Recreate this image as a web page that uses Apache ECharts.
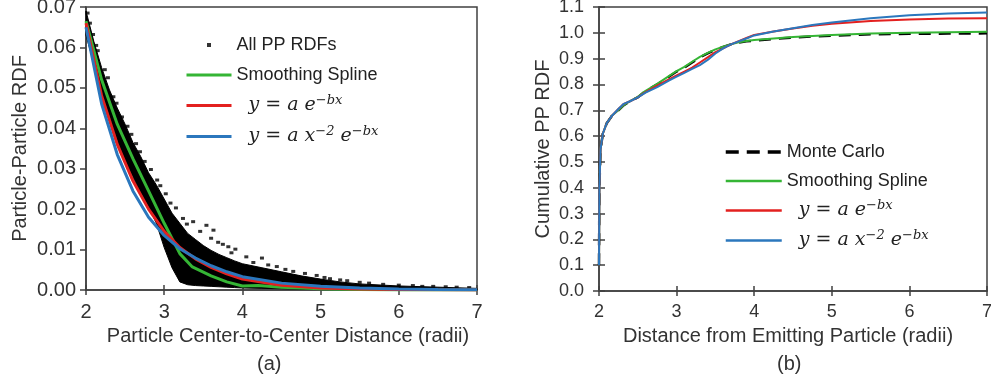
<!DOCTYPE html>
<html>
<head>
<meta charset="utf-8">
<script src="https://cdn.jsdelivr.net/npm/echarts@6/dist/echarts.min.js"></script>
<style>
html,body{margin:0;padding:0;background:#fff;}
#chart{width:991px;height:385px;}
</style>
</head>
<body>
<div id="chart"></div>
<script>
// ---------- Panel (a) data ----------
const cloudX     = [2.0,2.1,2.2,2.3,2.4,2.5,2.6,2.7,2.8,2.9,3.0,3.1,3.2,3.3,3.4,3.5,3.6,3.7,3.8,3.9,4.0,4.25,4.5,4.75,5.0,5.25,5.5,6.0,6.5,7.0];
const cloudUpper = [0.069,0.0615,0.055,0.0495,0.045,0.041,0.0365,0.033,0.029,0.026,0.0225,0.019,0.0165,0.014,0.0125,0.011,0.0098,0.0088,0.008,0.0072,0.0065,0.0055,0.0045,0.0035,0.0027,0.002,0.0015,0.001,0.0007,0.0004];
const cloudLower = [0.063,0.056,0.049,0.043,0.037,0.032,0.028,0.024,0.0205,0.0165,0.0105,0.0055,0.002,0.0013,0.0011,0.001,0.0009,0.0008,0.0007,0.0006,0.0005,0.0004,0.0003,0.0002,0.0002,0.0001,0.0001,0,0,0];
const rdfPoints = [
 [2.02,0.0685],[2.05,0.066],[2.09,0.0632],[2.13,0.0605],[2.15,0.0592],[2.24,0.0545],[2.28,0.0525],
 [2.35,0.0478],[2.39,0.0462],[2.46,0.0428],[2.53,0.0405],[2.58,0.0385],[2.64,0.0362],[2.69,0.0342],
 [2.75,0.0318],[2.83,0.0298],[2.91,0.0272],[2.95,0.0258],[3.02,0.0238],[3.08,0.0215],[3.15,0.0203],
 [3.24,0.0177],[3.29,0.0163],[3.37,0.0169],[3.54,0.016],[3.46,0.0145],[3.63,0.0148],[3.6,0.0128],
 [3.69,0.0118],[3.75,0.0113],[3.82,0.0107],[3.91,0.0101],[3.86,0.0092],[4.05,0.0082],[4.25,0.0079],
 [4.14,0.0068],[4.33,0.0062],[4.44,0.0058],[4.55,0.0051],[4.65,0.0046],[4.8,0.0041],[4.95,0.0036],
 [5.05,0.0031],[5.12,0.0028],[5.25,0.0025],[5.34,0.0023],[5.5,0.0019],[5.62,0.0017],[5.8,0.0014],
 [6.0,0.0012],[6.18,0.0011],[6.3,0.0009],[6.44,0.0009],[6.6,0.0008],[6.74,0.0007],[6.9,0.0006]
];
const splineX = [2.0,2.2,2.4,2.6,2.8,3.0,3.2,3.36,3.6,3.8,4.0,4.2,4.5,5.0,5.5,6.0,7.0];
const splineY = [0.0665,0.052,0.041,0.0325,0.0245,0.0165,0.009,0.0057,0.0035,0.002,0.001,0.0011,0.0007,0.0003,0.0001,0.0,0.0];
const fitX    = [2.0,2.2,2.4,2.6,2.8,3.0,3.2,3.4,3.6,3.8,4.0,4.5,5.0,5.5,6.0,6.5,7.0];
const expY    = [0.066,0.048,0.036,0.027,0.020,0.0145,0.0105,0.0077,0.0056,0.004,0.0027,0.0012,0.0005,0.00025,0.00012,0.00006,0.00003];
const powExpY = [0.065,0.046,0.0335,0.0245,0.018,0.0135,0.0102,0.0079,0.006,0.0045,0.0033,0.0017,0.0009,0.0005,0.00026,0.00014,0.00007];

// ---------- Panel (b) data ----------
const cdfX      = [2.0,2.005,2.02,2.05,2.1,2.17,2.25,2.32,2.4,2.5,2.6,2.75,2.9,3.0,3.1,3.2,3.3,3.4,3.5,3.6,3.7,3.8,3.9,4.0,4.25,4.5,4.75,5.0,5.5,6.0,6.5,7.0];
const mcY       = [0.10,0.40,0.55,0.61,0.65,0.68,0.70,0.72,0.735,0.75,0.775,0.80,0.83,0.85,0.865,0.885,0.905,0.92,0.935,0.945,0.955,0.962,0.967,0.970,0.976,0.982,0.986,0.989,0.994,0.996,0.997,0.998];
const splineCdf = [0.10,0.40,0.55,0.61,0.65,0.68,0.70,0.72,0.735,0.752,0.775,0.802,0.832,0.852,0.868,0.888,0.907,0.922,0.936,0.946,0.956,0.963,0.968,0.972,0.978,0.984,0.988,0.992,0.997,1.0,1.002,1.004];
const expCdf    = [0.10,0.40,0.55,0.61,0.65,0.68,0.705,0.725,0.735,0.75,0.77,0.795,0.82,0.835,0.85,0.865,0.885,0.905,0.925,0.94,0.955,0.968,0.98,0.992,1.005,1.017,1.027,1.035,1.046,1.052,1.055,1.056];
const powCdf    = [0.10,0.40,0.55,0.61,0.65,0.68,0.705,0.725,0.735,0.75,0.768,0.79,0.815,0.83,0.845,0.86,0.875,0.895,0.92,0.94,0.955,0.967,0.978,0.99,1.005,1.018,1.03,1.04,1.056,1.068,1.075,1.079];

const NAME_SCATTER = 'All PP RDFs';
const NAME_MC = 'Monte Carlo';
const NAME_SPLINE = 'Smoothing Spline';
const NAME_EXP = 'y = a e^(-bx)';
const NAME_POW = 'y = a x^(-2) e^(-bx)';

const zip = (xs, ys) => xs.map((x, i) => [x, ys[i]]);

const GREEN = '#35b535', RED = '#e3201f', BLUE = '#2b77bd';
const AXIS = '#404040', TXT = '#333333';
const SANS = 'Liberation Sans, Arial, sans-serif';

function legendFmt(name) {
  if (name === NAME_EXP) return '{g| }{t|y = a e}{s|−bx}';
  if (name === NAME_POW) return '{g| }{t|y = a x}{s|−2}{t| e}{s|−bx}';
  return name;
}
function legendRich(padW) {
  return {
    g: { width: padW, fontSize: 18, lineHeight: 22 },
    t: { fontFamily: 'DejaVu Serif', fontStyle: 'italic', fontSize: 19, lineHeight: 22, color: '#222' },
    s: { fontFamily: 'DejaVu Serif', fontStyle: 'italic', fontSize: 13, lineHeight: 12, padding: [0,0,10,0], color: '#222' }
  };
}

const gridA = { left: 86, top: 7, width: 391, height: 283 };
const gridB = { left: 599, top: 7, width: 388, height: 284 };

function mainX(gi, size) {
  return {
    type: 'value', gridIndex: gi, min: 2, max: 7, interval: 1,
    axisLine: { show: true, lineStyle: { color: AXIS, width: 1.5 } },
    axisTick: { show: true, inside: false, length: 5, lineStyle: { color: AXIS, width: 1.5 } },
    axisLabel: { show: true, fontSize: size, fontFamily: SANS, color: TXT, margin: 12 },
    splitLine: { show: false }
  };
}
function innerX(gi) {
  return {
    type: 'value', gridIndex: gi, min: 2, max: 7, interval: 1,
    axisLine: { show: false }, axisLabel: { show: false }, splitLine: { show: false },
    axisTick: { show: true, inside: true, length: 5, lineStyle: { color: AXIS, width: 1.5 } }
  };
}

// dense point cloud drawn as the region between its read-off envelopes
function renderCloud(params, api) {
  const pts = [];
  for (let i = 0; i < cloudX.length; i++) pts.push(api.coord([cloudX[i], cloudUpper[i]]));
  for (let i = cloudX.length - 1; i >= 0; i--) pts.push(api.coord([cloudX[i], cloudLower[i]]));
  return { type: 'polygon', shape: { points: pts }, style: { fill: '#000', stroke: '#000', lineWidth: 1 } };
}

const hideDot = { opacity: 0 };

const option = {
  animation: false,
  backgroundColor: '#ffffff',
  grid: [
    Object.assign({ show: true, borderColor: AXIS, borderWidth: 1.5, outerBoundsMode: 'none' }, gridA),
    Object.assign({ show: true, borderColor: AXIS, borderWidth: 1.5, outerBoundsMode: 'none' }, gridB),
    Object.assign({ show: false, outerBoundsMode: 'none' }, gridA),
    Object.assign({ show: false, outerBoundsMode: 'none' }, gridB)
  ],
  xAxis: [
    Object.assign(mainX(0, 20), {
      name: 'Particle Center-to-Center Distance (radii)', nameLocation: 'middle', nameGap: 35,
      nameTextStyle: { fontSize: 20, fontFamily: SANS, color: TXT, padding: [0,0,0,13] }
    }),
    Object.assign(mainX(1, 18), {
      name: 'Distance from Emitting Particle (radii)', nameLocation: 'middle', nameGap: 35,
      nameTextStyle: { fontSize: 20, fontFamily: SANS, color: TXT, padding: [0,10,0,0] }
    }),
    innerX(2),
    innerX(3)
  ],
  yAxis: [
    {
      type: 'value', gridIndex: 0, min: 0, max: 0.07, interval: 0.01,
      name: 'Particle-Particle RDF', nameLocation: 'middle', nameGap: 56,
      nameTextStyle: { fontSize: 20, fontFamily: SANS, color: TXT },
      axisLine: { show: true, lineStyle: { color: AXIS, width: 1.5 } },
      axisTick: { show: true, inside: false, length: 6, lineStyle: { color: AXIS, width: 1.5 } },
      axisLabel: { fontSize: 20, fontFamily: SANS, color: TXT, margin: 10, formatter: v => v.toFixed(2) },
      splitLine: { show: false }
    },
    {
      type: 'value', gridIndex: 1, min: 0, max: 1.1, interval: 0.1,
      name: 'Cumulative PP RDF', nameLocation: 'middle', nameGap: 46,
      nameTextStyle: { fontSize: 20, fontFamily: SANS, color: TXT },
      axisLine: { show: true, lineStyle: { color: AXIS, width: 1.5 } },
      axisTick: { show: true, inside: false, length: 6, lineStyle: { color: AXIS, width: 1.5 } },
      axisLabel: { fontSize: 18, fontFamily: SANS, color: TXT, margin: 15, formatter: v => v.toFixed(1) },
      splitLine: { show: false }
    },
    { type: 'value', gridIndex: 2, min: 0, max: 0.07, show: false },
    {
      type: 'value', gridIndex: 3, min: 0, max: 1.1, interval: 0.1,
      axisLine: { show: false }, axisLabel: { show: false }, splitLine: { show: false },
      axisTick: { show: true, inside: true, length: 6, lineStyle: { color: AXIS, width: 1.5 } }
    }
  ],
  legend: [
    {
      orient: 'vertical', left: 185, top: 34, padding: 0, itemGap: 8,
      itemWidth: 45, itemHeight: 4, selectedMode: false,
      lineStyle: { width: 3 },
      data: [
        { name: NAME_SCATTER, icon: 'path://M0,0L1,0L1,1L0,1Z' },
        { name: NAME_SPLINE, itemStyle: hideDot },
        { name: NAME_EXP, itemStyle: hideDot },
        { name: NAME_POW, itemStyle: hideDot }
      ],
      formatter: legendFmt,
      textStyle: { fontSize: 18, fontFamily: SANS, color: '#222', lineHeight: 22, rich: legendRich(12) }
    },
    {
      orient: 'vertical', left: 724, top: 141, padding: 0, itemGap: 7,
      itemWidth: 56, itemHeight: 4, selectedMode: false,
      lineStyle: { width: 2.5 },
      data: [
        { name: NAME_MC, itemStyle: hideDot, lineStyle: { width: 3.5, type: [13, 8] } },
        { name: NAME_SPLINE, itemStyle: hideDot },
        { name: NAME_EXP, itemStyle: hideDot },
        { name: NAME_POW, itemStyle: hideDot }
      ],
      formatter: legendFmt,
      textStyle: { fontSize: 18, fontFamily: SANS, color: '#222', lineHeight: 22, rich: legendRich(12) }
    }
  ],
  series: [
    // ----- panel (a) -----
    {
      type: 'custom', name: 'cloud', xAxisIndex: 0, yAxisIndex: 0, coordinateSystem: 'cartesian2d',
      data: [[cloudX[0], cloudUpper[0]]], renderItem: renderCloud, silent: true, z: 1
    },
    {
      type: 'scatter', name: NAME_SCATTER, xAxisIndex: 0, yAxisIndex: 0,
      data: rdfPoints, symbol: 'rect', symbolSize: [4, 3],
      itemStyle: { color: '#000' }, z: 2
    },
    {
      type: 'line', name: NAME_SPLINE, xAxisIndex: 0, yAxisIndex: 0, data: zip(splineX, splineY),
      symbol: 'none', showSymbol: false, lineStyle: { color: GREEN, width: 3 }, itemStyle: { color: GREEN }, z: 3
    },
    {
      type: 'line', name: NAME_EXP, xAxisIndex: 0, yAxisIndex: 0, data: zip(fitX, expY),
      symbol: 'none', showSymbol: false, lineStyle: { color: RED, width: 3 }, itemStyle: { color: RED }, z: 4
    },
    {
      type: 'line', name: NAME_POW, xAxisIndex: 0, yAxisIndex: 0, data: zip(fitX, powExpY),
      symbol: 'none', showSymbol: false, lineStyle: { color: BLUE, width: 3 }, itemStyle: { color: BLUE }, z: 5
    },
    // ----- panel (b) -----
    {
      type: 'line', name: NAME_MC, xAxisIndex: 1, yAxisIndex: 1, data: zip(cdfX, mcY),
      symbol: 'none', showSymbol: false, lineStyle: { color: '#000', width: 2.5, type: [12, 8] }, itemStyle: { color: '#000' }, z: 2
    },
    {
      type: 'line', name: NAME_SPLINE, xAxisIndex: 1, yAxisIndex: 1, data: zip(cdfX, splineCdf),
      symbol: 'none', showSymbol: false, lineStyle: { color: GREEN, width: 2 }, itemStyle: { color: GREEN }, z: 3
    },
    {
      type: 'line', name: NAME_EXP, xAxisIndex: 1, yAxisIndex: 1, data: zip(cdfX, expCdf),
      symbol: 'none', showSymbol: false, lineStyle: { color: RED, width: 2 }, itemStyle: { color: RED }, z: 4
    },
    {
      type: 'line', name: NAME_POW, xAxisIndex: 1, yAxisIndex: 1, data: zip(cdfX, powCdf),
      symbol: 'none', showSymbol: false, lineStyle: { color: BLUE, width: 2 }, itemStyle: { color: BLUE }, z: 5
    }
  ],
  graphic: [
    { type: 'text', left: 257, top: 354, style: { text: '(a)', fontSize: 20, fontFamily: SANS, fill: TXT } },
    { type: 'text', left: 777, top: 354, style: { text: '(b)', fontSize: 20, fontFamily: SANS, fill: TXT } }
  ]
};

const chart = echarts.init(document.getElementById('chart'), null, { renderer: 'canvas' });
chart.setOption(option);
</script>
</body>
</html>
